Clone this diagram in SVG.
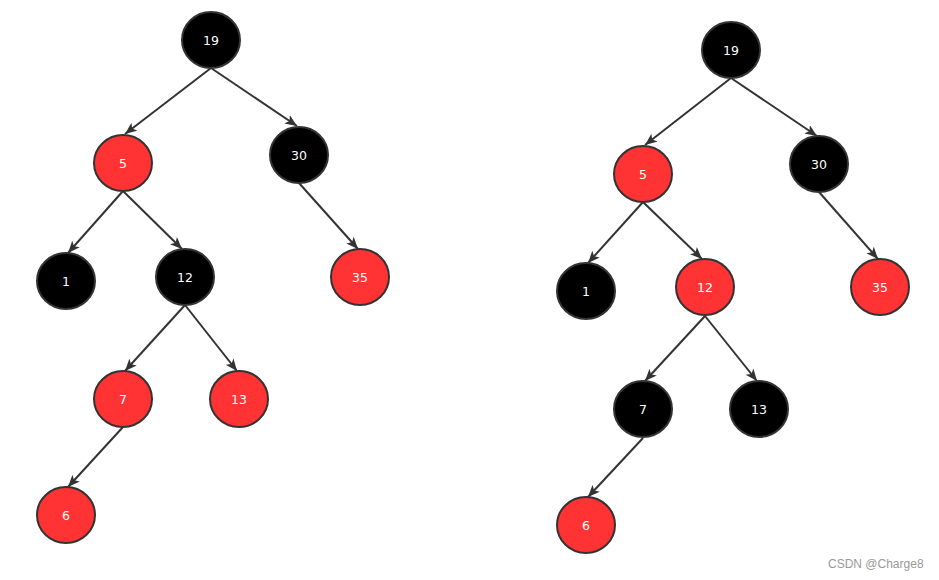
<svg xmlns="http://www.w3.org/2000/svg" width="939" height="580" viewBox="0 0 939 580">
<style>
.n ellipse{stroke:#333;stroke-width:2}
.b ellipse{fill:#000}
.r ellipse{fill:#ff3333}
.n text{fill:#fff;font-family:"DejaVu Sans",sans-serif;font-size:12.5px;text-anchor:middle}
.e path{stroke:#333;stroke-width:2;fill:none;marker-end:url(#ah)}
.wm{fill:#999;font-family:"Liberation Sans",Arial,sans-serif;font-size:12px}
</style>
<defs>
<marker id="ah" markerUnits="userSpaceOnUse" markerWidth="14" markerHeight="11" refX="12" refY="5" orient="auto">
<path d="M0,0 L12,5 L0,10 L3,5 z" fill="#333"/>
</marker>
</defs>
<rect width="939" height="580" fill="#fff"/>
<g id="connectors" class="e">
<path d="M211,68 L125,134"/>
<path d="M211,68 L297,126"/>
<path d="M123,191 L68,253"/>
<path d="M123,191 L182,249"/>
<path d="M299,183 L358,249"/>
<path d="M185,305 L125,371"/>
<path d="M185,305 L237,371"/>
<path d="M123,427 L68,487"/>
<path d="M731,78 L645,145"/>
<path d="M731,78 L817,136"/>
<path d="M643,202 L588,263"/>
<path d="M643,202 L702,259"/>
<path d="M819,192 L878,259"/>
<path d="M705,316 L645,381"/>
<path d="M705,316 L757,381"/>
<path d="M643,438 L588,497"/>
</g>
<g id="L19" class="n b"><ellipse cx="211" cy="40" rx="29" ry="28"/><text x="211" y="45">19</text></g>
<g id="L5" class="n r"><ellipse cx="123" cy="163" rx="29" ry="28"/><text x="123" y="168">5</text></g>
<g id="L30" class="n b"><ellipse cx="299" cy="155" rx="29" ry="28"/><text x="299" y="160">30</text></g>
<g id="L1" class="n b"><ellipse cx="66" cy="281" rx="29" ry="28"/><text x="66" y="286">1</text></g>
<g id="L12" class="n b"><ellipse cx="185" cy="277" rx="29" ry="28"/><text x="185" y="282">12</text></g>
<g id="L35" class="n r"><ellipse cx="360" cy="277" rx="29" ry="28"/><text x="360" y="282">35</text></g>
<g id="L7" class="n r"><ellipse cx="123" cy="399" rx="29" ry="28"/><text x="123" y="404">7</text></g>
<g id="L13" class="n r"><ellipse cx="239" cy="399" rx="29" ry="28"/><text x="239" y="404">13</text></g>
<g id="L6" class="n r"><ellipse cx="66" cy="515" rx="29" ry="28"/><text x="66" y="520">6</text></g>
<g id="R19" class="n b"><ellipse cx="731" cy="50" rx="29" ry="28"/><text x="731" y="55">19</text></g>
<g id="R5" class="n r"><ellipse cx="643" cy="174" rx="29" ry="28"/><text x="643" y="179">5</text></g>
<g id="R30" class="n b"><ellipse cx="819" cy="164" rx="29" ry="28"/><text x="819" y="169">30</text></g>
<g id="R1" class="n b"><ellipse cx="586" cy="291" rx="29" ry="28"/><text x="586" y="296">1</text></g>
<g id="R12" class="n r"><ellipse cx="705" cy="287" rx="29" ry="28"/><text x="705" y="292">12</text></g>
<g id="R35" class="n r"><ellipse cx="880" cy="287" rx="29" ry="28"/><text x="880" y="292">35</text></g>
<g id="R7" class="n b"><ellipse cx="643" cy="409" rx="29" ry="28"/><text x="643" y="414">7</text></g>
<g id="R13" class="n b"><ellipse cx="759" cy="409" rx="29" ry="28"/><text x="759" y="414">13</text></g>
<g id="R6" class="n r"><ellipse cx="586" cy="525" rx="29" ry="28"/><text x="586" y="530">6</text></g>
<text class="wm" x="828" y="568">CSDN @Charge8</text>
</svg>
